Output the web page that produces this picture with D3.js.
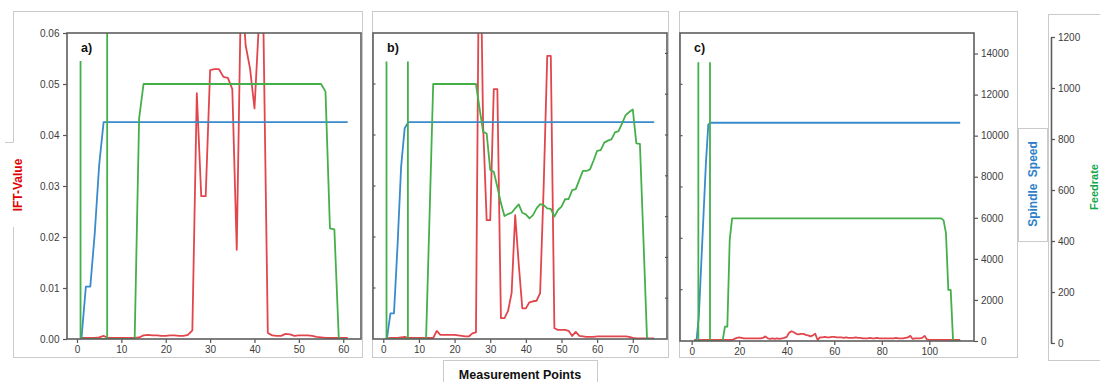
<!DOCTYPE html>
<html>
<head>
<meta charset="utf-8">
<script src="https://cdn.jsdelivr.net/npm/d3@7"></script>
<style>
  body { margin: 0; background: #fff; }
  svg { display: block; font-family: "DejaVu Sans", sans-serif; }
  .tick text { fill: #3c3c3c; font-size: 10px; }
  .tick line { stroke: #555; stroke-width: 1.2; }
  .lbl { font-family: "Liberation Sans", Arial, sans-serif; font-weight: bold; }
</style>
</head>
<body>
<div id="chart"></div>
<script>
// ---- data (x = measurement point, starting at 1) ----
var iftA = [0.0002,0.0002,0.0002,0.0002,0.0003,0.0006,0.0002,0.0002,0.0002,0.0002,
  0.0002,0.0002,0.0002,0.0003,0.0007,0.0008,0.0007,0.0007,0.0006,0.0006,
  0.0007,0.0007,0.0006,0.0006,0.0008,0.0017,0.0482,0.028,0.028,0.0527,
  0.0529,0.0529,0.0514,0.0512,0.049,0.0175,0.071,0.0576,0.053,0.0452,
  0.062,0.062,0.0012,0.0007,0.0006,0.0006,0.001,0.0009,0.0006,0.0007,
  0.0007,0.0007,0.0006,0.0004,0.0003,0.0002,0.0002,0.0002,0.0002,0.0002,
  0.0002];
var spindleA = [0,2565,2565,5180,8530,10630,10630,10630,10630,10630,
  10630,10630,10630,10630,10630,10630,10630,10630,10630,10630,
  10630,10630,10630,10630,10630,10630,10630,10630,10630,10630,
  10630,10630,10630,10630,10630,10630,10630,10630,10630,10630,
  10630,10630,10630,10630,10630,10630,10630,10630,10630,10630,
  10630,10630,10630,10630,10630,10630,10630,10630,10630,10630,
  10630];
var feedA = [0,0,0,0,0,0,0,0,0,0,
  0,0,0,865,1000,1000,1000,1000,1000,1000,
  1000,1000,1000,1000,1000,1000,1000,1000,1000,1000,
  1000,1000,1000,1000,1000,1000,1000,1000,1000,1000,
  1000,1000,1000,1000,1000,1000,1000,1000,1000,1000,
  1000,1000,1000,1000,1000,970,434,430,0,0,
  0];
var spikesA = [[0.8, 1090], [6.8, 1400]];

var iftB = [0.0001,0.0002,0.0002,0.0002,0.0003,0.0004,0.0002,0.0002,0.0002,0.0002,
  0.0002,0.0002,0.0002,0.0002,0.0016,0.0008,0.0008,0.0008,0.0008,0.0008,
  0.0007,0.0006,0.0005,0.0005,0.0011,0.0013,0.09,0.042,0.0233,0.0233,
  0.049,0.049,0.0041,0.0041,0.0055,0.009,0.0243,0.0147,0.006,0.006,
  0.0072,0.0074,0.0075,0.009,0.03,0.0555,0.0555,0.0021,0.0018,0.0018,
  0.0018,0.0016,0.0006,0.0014,0.0006,0.0005,0.0004,0.0004,0.0004,0.0005,
  0.0005,0.0005,0.0005,0.0005,0.0005,0.0005,0.0005,0.0005,0.0004,0.0002,
  0.0001,0.0001,0.0001,0.0001,0.0001,0.0001];
var spindleB = [0,1260,1260,4600,8450,10330,10630,10630,10630,10630,
  10630,10630,10630,10630,10630,10630,10630,10630,10630,10630,
  10630,10630,10630,10630,10630,10630,10630,10630,10630,10630,
  10630,10630,10630,10630,10630,10630,10630,10630,10630,10630,
  10630,10630,10630,10630,10630,10630,10630,10630,10630,10630,
  10630,10630,10630,10630,10630,10630,10630,10630,10630,10630,
  10630,10630,10630,10630,10630,10630,10630,10630,10630,10630,
  10630,10630,10630,10630,10630,10630];
var feedB = [0,0,0,0,0,0,0,0,0,0,
  0,0,493,1000,1000,1000,1000,1000,1000,1000,
  1000,1000,1000,1000,1000,1000,905,813,806,663,
  656,596,533,482,490,495,512,528,495,489,
  473,486,512,529,525,512,510,480,506,519,
  548,549,584,588,624,659,659,665,700,738,
  741,770,778,783,810,815,846,878,890,900,
  767,765,388,0,0,0];
var spikesB = [[0.9, 1088], [6.9, 1088]];

var iftC = [0.0002,0.0002,0.0002,0.0002,0.0002,0.0002,0.0002,0.0002,0.0002,0.0002,
  0.0002,0.0002,0.0002,0.0002,0.0002,0.0002,0.0002,0.0004,0.0006,0.0007,
  0.0006,0.0005,0.0005,0.0005,0.0005,0.0005,0.0005,0.0005,0.0005,0.0006,
  0.0009,0.0005,0.0004,0.0005,0.0004,0.0005,0.0004,0.0005,0.0006,0.0008,
  0.0016,0.0019,0.0017,0.0014,0.0013,0.0014,0.0014,0.0012,0.0011,0.0009,
  0.0011,0.0014,0.0002,0.0007,0.0007,0.0008,0.0007,0.0007,0.0008,0.0008,
  0.0007,0.0007,0.0007,0.0006,0.0007,0.0006,0.0006,0.0006,0.0007,0.0006,
  0.0006,0.0005,0.0005,0.0005,0.0006,0.0005,0.0005,0.0006,0.0005,0.0005,
  0.0005,0.0005,0.0005,0.0005,0.0005,0.0006,0.0005,0.0005,0.0005,0.0006,
  0.0007,0.001,0.0004,0.0005,0.0005,0.0005,0.0006,0.001,0.0003,0.0002,
  0.0002,0.0002,0.0002,0.0002,0.0002,0.0002,0.0002,0.0002,0.0002,0.0002,
  0.0002,0.0002,0.0002];
var spindleC = [0,0,1200,3700,6200,8700,10550,10630,10630,10630,
  10630,10630,10630,10630,10630,10630,10630,10630,10630,10630,
  10630,10630,10630,10630,10630,10630,10630,10630,10630,10630,
  10630,10630,10630,10630,10630,10630,10630,10630,10630,10630,
  10630,10630,10630,10630,10630,10630,10630,10630,10630,10630,
  10630,10630,10630,10630,10630,10630,10630,10630,10630,10630,
  10630,10630,10630,10630,10630,10630,10630,10630,10630,10630,
  10630,10630,10630,10630,10630,10630,10630,10630,10630,10630,
  10630,10630,10630,10630,10630,10630,10630,10630,10630,10630,
  10630,10630,10630,10630,10630,10630,10630,10630,10630,10630,
  10630,10630,10630,10630,10630,10630,10630,10630,10630,10630,
  10630,10630,10630];
var feedC = [0,0,0,0,0,0,0,0,0,0,
  0,0,0,56,56,394,478,478,478,478,
  478,478,478,478,478,478,478,478,478,478,
  478,478,478,478,478,478,478,478,478,478,
  478,478,478,478,478,478,478,478,478,478,
  478,478,478,478,478,478,478,478,478,478,
  478,478,478,478,478,478,478,478,478,478,
  478,478,478,478,478,478,478,478,478,478,
  478,478,478,478,478,478,478,478,478,478,
  478,478,478,478,478,478,478,478,478,478,
  478,478,478,478,478,470,420,199,199,0,
  0,0,0];
var spikesC = [[2.8, 1086], [7.7, 1086]];

var xTicksA = [0, 10, 20, 30, 40, 50, 60];
var xTicksB = [0, 10, 20, 30, 40, 50, 60, 70];
var xTicksC = [0, 20, 40, 60, 80, 100];
var iftTicks = [0, 0.01, 0.02, 0.03, 0.04, 0.05, 0.06];
var spindleTicks = [0, 2000, 4000, 6000, 8000, 10000, 12000, 14000];
var feedTicks = [0, 200, 400, 600, 800, 1000, 1200];

var RED = '#e1464c', BLUE = '#3a8bcc', GREEN = '#45b04a';

// ---- layout ----
var panels = [
  { ift: iftA, spindle: spindleA, feed: feedA, spikes: spikesA, ticks: xTicksA,
    xDom: [-2.25, 64], left: 67, right: 361, top: 33, bottom: 339,
    box: [13, 11, 362, 357], label: 'a)', yAxis: true },
  { ift: iftB, spindle: spindleB, feed: feedB, spikes: spikesB, ticks: xTicksB,
    xDom: [-2.89, 79.6], left: 373, right: 667, top: 33, bottom: 339,
    box: [372, 11, 668, 357], label: 'b)', sideTicks: true },
  { ift: iftC, spindle: spindleC, feed: feedC, spikes: spikesC, ticks: xTicksC,
    xDom: [-4.92, 118.8], left: 680, right: 974, top: 33, bottom: 341,
    box: [679, 11, 1017, 357], label: 'c)', rightAxis: true, leftTicks: true }
];

var svg = d3.select('#chart').append('svg')
  .attr('width', 1100)
  .attr('height', 382);

var boxStroke = '#cacaca';
var intFmt = d3.format('d');

panels.forEach(function (p, k) {
  // light border around each sub-figure
  svg.append('rect')
    .attr('x', p.box[0] + 0.5).attr('y', p.box[1] + 0.5)
    .attr('width', p.box[2] - p.box[0]).attr('height', p.box[3] - p.box[1])
    .attr('fill', 'none').attr('stroke', boxStroke);

  var x = d3.scaleLinear().domain(p.xDom).range([p.left, p.right]);
  var yIft = d3.scaleLinear().domain([0, 0.06]).range([p.bottom, p.top]);
  var ySp = d3.scaleLinear().domain([0, 15000]).range([p.bottom, p.top]);
  var yFd = d3.scaleLinear().domain([0, 1200]).range([p.bottom, p.top]);

  var clipId = 'clip' + k;
  svg.append('clipPath').attr('id', clipId)
    .append('rect')
    .attr('x', p.left).attr('y', p.top)
    .attr('width', p.right - p.left).attr('height', p.bottom - p.top);

  var g = svg.append('g').attr('clip-path', 'url(#' + clipId + ')');

  var toPts = function (arr) { return arr.map(function (v, i) { return [i + 1, v]; }); };

  g.append('path')
    .attr('d', d3.line().x(d => x(d[0])).y(d => yIft(d[1]))(toPts(p.ift)))
    .attr('fill', 'none').attr('stroke', RED).attr('stroke-width', 1.8)
    .attr('stroke-linejoin', 'round');

  g.append('path')
    .attr('d', d3.line().x(d => x(d[0])).y(d => ySp(d[1]))(toPts(p.spindle)))
    .attr('fill', 'none').attr('stroke', BLUE).attr('stroke-width', 1.8)
    .attr('stroke-linejoin', 'round');

  g.append('path')
    .attr('d', d3.line().x(d => x(d[0])).y(d => yFd(d[1]))(toPts(p.feed)))
    .attr('fill', 'none').attr('stroke', GREEN).attr('stroke-width', 1.8)
    .attr('stroke-linejoin', 'round');

  g.selectAll('.spike')
    .data(p.spikes)
    .enter().append('line')
    .attr('x1', d => x(d[0])).attr('x2', d => x(d[0]))
    .attr('y1', yFd(0)).attr('y2', d => yFd(d[1]))
    .attr('stroke', GREEN).attr('stroke-width', 1.8);

  // x axis
  var xa = svg.append('g')
    .attr('transform', 'translate(0,' + p.bottom + ')')
    .call(d3.axisBottom(x).tickValues(p.ticks).tickFormat(intFmt)
      .tickSize(4).tickPadding(3).tickSizeOuter(0));
  xa.select('.domain').remove();

  if (p.yAxis) {
    var ya = svg.append('g')
      .attr('transform', 'translate(' + p.left + ',0)')
      .call(d3.axisLeft(yIft).tickValues(iftTicks).tickFormat(d3.format('.2f'))
        .tickSize(4).tickPadding(3.5).tickSizeOuter(0));
    ya.select('.domain').remove();
  }
  if (p.sideTicks || p.leftTicks) {
    svg.append('g').selectAll('line')
      .data(iftTicks.slice(1, 6))
      .enter().append('line')
      .attr('x1', p.left).attr('x2', p.left + 2.5)
      .attr('y1', d => yIft(d)).attr('y2', d => yIft(d))
      .attr('stroke', '#555').attr('stroke-width', 1.2);
  }
  if (p.sideTicks) {
    svg.append('g').selectAll('line')
      .data(spindleTicks.slice(1))
      .enter().append('line')
      .attr('x1', p.right - 2).attr('x2', p.right + 1)
      .attr('y1', d => ySp(d)).attr('y2', d => ySp(d))
      .attr('stroke', '#555').attr('stroke-width', 1.2);
  }
  if (p.rightAxis) {
    var ra = svg.append('g')
      .attr('transform', 'translate(' + p.right + ',0)')
      .call(d3.axisRight(ySp).tickValues(spindleTicks).tickFormat(intFmt)
        .tickSize(4).tickPadding(3).tickSizeOuter(0));
    ra.select('.domain').remove();
  }

  // plot frame
  svg.append('rect')
    .attr('x', p.left).attr('y', p.top)
    .attr('width', p.right - p.left).attr('height', p.bottom - p.top)
    .attr('fill', 'none').attr('stroke', '#5e5e5e').attr('stroke-width', 1.6);

  svg.append('text')
    .attr('class', 'lbl')
    .attr('x', p.left + 14).attr('y', 52)
    .attr('font-size', 12.5).attr('fill', '#111')
    .text(p.label);
});

// ---- side labels ----
// IFT-Value label box (covers panel a border)
svg.append('rect')
  .attr('x', 4).attr('y', 142).attr('width', 24).attr('height', 85)
  .attr('fill', '#fff');
svg.append('line')
  .attr('x1', 5).attr('x2', 13.5).attr('y1', 142.5).attr('y2', 142.5)
  .attr('stroke', boxStroke);
svg.append('text')
  .attr('class', 'lbl')
  .attr('transform', 'translate(22,185) rotate(-90)')
  .attr('text-anchor', 'middle')
  .attr('font-size', 12).attr('fill', '#e00000')
  .text('IFT-Value');

// Spindle Speed label box
svg.append('rect')
  .attr('x', 1018.5).attr('y', 128.5).attr('width', 29).attr('height', 113)
  .attr('fill', '#fff').attr('stroke', boxStroke);
svg.append('text')
  .attr('class', 'lbl')
  .attr('transform', 'translate(1037,184) rotate(-90)')
  .attr('text-anchor', 'middle')
  .attr('font-size', 12).attr('fill', '#2e7fc8')
  .attr('word-spacing', 3)
  .text('Spindle Speed');

// Feedrate axis box
svg.append('rect')
  .attr('x', 1048.5).attr('y', 14.5).attr('width', 80).attr('height', 346)
  .attr('fill', '#fff').attr('stroke', boxStroke);
var yFeedAxis = d3.scaleLinear().domain([0, 1200]).range([343, 37]);
var fa = svg.append('g')
  .attr('transform', 'translate(1051,0)')
  .call(d3.axisRight(yFeedAxis).tickValues(feedTicks).tickFormat(intFmt)
    .tickSize(4).tickPadding(3).tickSizeOuter(0));
fa.select('.domain').attr('stroke', '#5e5e5e').attr('stroke-width', 1.6);
svg.append('text')
  .attr('class', 'lbl')
  .attr('transform', 'translate(1098,187) rotate(-90)')
  .attr('text-anchor', 'middle')
  .attr('font-size', 11).attr('fill', '#12a84a')
  .text('Feedrate');

// Measurement Points label box
svg.append('rect')
  .attr('x', 443.5).attr('y', 360.5).attr('width', 154).attr('height', 40)
  .attr('fill', '#fff').attr('stroke', boxStroke);
svg.append('text')
  .attr('class', 'lbl')
  .attr('x', 520).attr('y', 379)
  .attr('text-anchor', 'middle')
  .attr('font-size', 12.5).attr('fill', '#111')
  .text('Measurement Points');
</script>
</body>
</html>
